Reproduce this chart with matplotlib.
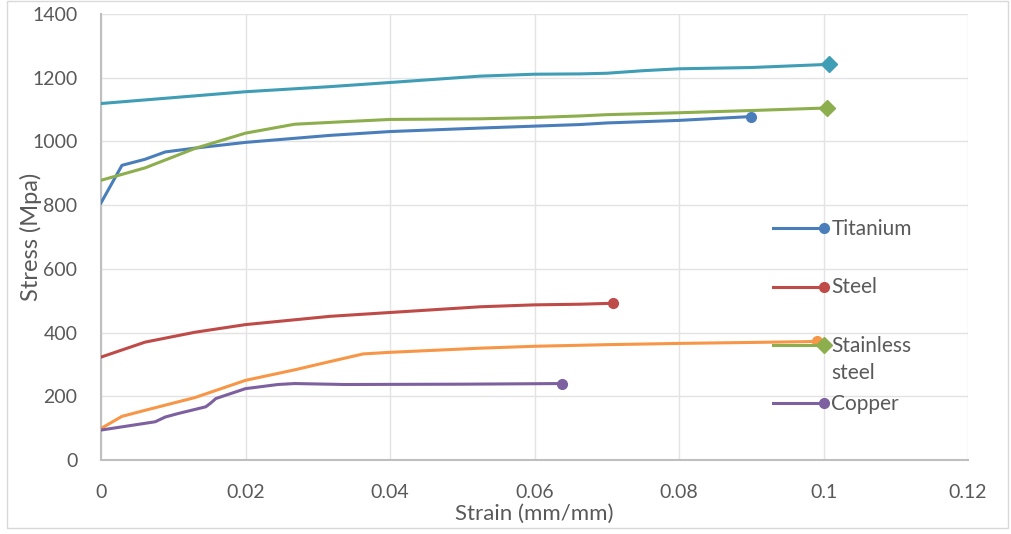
import numpy as np
import matplotlib
matplotlib.use("Agg")
import matplotlib.pyplot as plt
from matplotlib.lines import Line2D
from matplotlib.legend_handler import HandlerLine2D
from matplotlib.patches import Rectangle

plt.rcParams["font.family"] = ["Lato", "DejaVu Sans"]

# stress-strain curves
ti_strain = [0, 0.0029, 0.0061, 0.0089, 0.013, 0.02, 0.0317, 0.04, 0.0525, 0.06, 0.0663, 0.07, 0.08, 0.0899]
ti_stress = [807, 925, 944, 967, 979, 997, 1019, 1031, 1042, 1048, 1053, 1058, 1066, 1078]

steel_strain = [0, 0.0061, 0.013, 0.02, 0.0317, 0.04, 0.0525, 0.06, 0.0663, 0.0708]
steel_stress = [323, 370, 401, 425, 451, 463, 481, 487, 489, 492]

ss_strain = [0, 0.0061, 0.013, 0.02, 0.0268, 0.0337, 0.04, 0.0525, 0.06, 0.0663, 0.07, 0.08, 0.09, 0.1005]
ss_stress = [878, 917, 978, 1026, 1054, 1062, 1069, 1071, 1075, 1080, 1084, 1090, 1097, 1105]

cu_strain = [0, 0.0075, 0.0089, 0.0107, 0.0145, 0.0152, 0.0159, 0.02, 0.0245, 0.0268, 0.0337, 0.05, 0.0638]
cu_stress = [94, 120, 135, 146, 167, 179, 193, 224, 237, 240, 237, 238, 240]

# unlabelled series (not in the legend)
top_strain = [0, 0.02, 0.0317, 0.04, 0.0525, 0.06, 0.0663, 0.07, 0.075, 0.08, 0.09, 0.1008]
top_stress = [1119, 1156, 1172, 1185, 1205, 1211, 1212, 1214, 1222, 1228, 1232, 1242]

low_strain = [0, 0.0029, 0.0061, 0.013, 0.02, 0.0268, 0.0317, 0.0363, 0.04, 0.0525, 0.06, 0.07, 0.08, 0.09, 0.0991]
low_stress = [99, 137, 156, 196, 250, 283, 309, 333, 338, 351, 357, 362, 366, 369, 372]

x_ticks = [0, 0.02, 0.04, 0.06, 0.08, 0.1, 0.12]
x_tick_labels = ["0", "0.02", "0.04", "0.06", "0.08", "0.1", "0.12"]
y_ticks = [0, 200, 400, 600, 800, 1000, 1200, 1400]


class EndMarker(HandlerLine2D):
    """Excel-like legend key: line with the marker at its right end."""

    def __init__(self, yshift=0.0, **kw):
        super().__init__(**kw)
        self.yshift = yshift

    def create_artists(self, legend, orig_handle, xdescent, ydescent,
                       width, height, fontsize, trans):
        y = (height - ydescent) / 2 + self.yshift * fontsize
        line = Line2D([-xdescent, -xdescent + width], [y, y])
        self.update_prop(line, orig_handle, legend)
        line.set_markevery([1])
        line.set_transform(trans)
        return [line]


fig = plt.figure(figsize=(10.11, 5.34), dpi=100)
ax = fig.add_axes([101 / 1011, 74 / 534, 867 / 1011, 446 / 534])

lw = 2.2
ax.plot(top_strain, top_stress, color="#3F9DB5", lw=lw, marker="D", ms=8.5, markevery=[-1], zorder=3)
l_ti, = ax.plot(ti_strain, ti_stress, color="#4A7EBB", lw=lw, marker="o", ms=7, markevery=[-1], zorder=3)
l_st, = ax.plot(steel_strain, steel_stress, color="#BE4B48", lw=lw, marker="o", ms=7, markevery=[-1], zorder=3)
l_ss, = ax.plot(ss_strain, ss_stress, color="#8DAE4D", lw=lw, marker="D", ms=8.5, markevery=[-1], zorder=3)
ax.plot(low_strain, low_stress, color="#F79646", lw=lw, marker="o", ms=7, markevery=[-1], zorder=3)
l_cu, = ax.plot(cu_strain, cu_stress, color="#7D60A0", lw=lw, marker="o", ms=7, markevery=[-1], zorder=3)

ax.set_xlim(0, 0.12)
ax.set_ylim(0, 1400)
ax.set_xticks(x_ticks, x_tick_labels)
ax.set_yticks(y_ticks)
ax.tick_params(length=0, labelsize=14, labelcolor="#595959", pad=17)
ax.grid(True, color="#E3E3E3", lw=1.0)
ax.set_axisbelow(True)
for s in ["top", "right"]:
    ax.spines[s].set_visible(False)
for s in ["left", "bottom"]:
    ax.spines[s].set_color("#BFBFBF")
    ax.spines[s].set_linewidth(1.5)

ax.set_xlabel("Strain (mm/mm)", fontsize=16, color="#595959", labelpad=2.5)
ax.set_ylabel("Stress (Mpa)", fontsize=17, color="#595959", labelpad=-7)

handles = [l_ti, l_st, l_ss, l_cu]
labels = ["Titanium\n", "Steel\n", "Stainless\nsteel", "Copper\n"]
hm = {h: EndMarker(yshift=0.72) for h in handles}
leg = ax.legend(handles, labels, handler_map=hm, loc="upper left",
                bbox_to_anchor=(0.775, 0.540), frameon=False, fontsize=15,
                handlelength=2.45, handletextpad=0.35, labelspacing=0.53,
                borderpad=0, borderaxespad=0, labelcolor="#595959")
for t in leg.get_texts():
    t.set_linespacing(1.45)
leg.set_zorder(5)

fig.patches.append(Rectangle((7 / 1011, 6 / 534), 1001 / 1011, 527 / 534,
                             transform=fig.transFigure, fill=False,
                             edgecolor="#D9D9D9", lw=1.0))

fig.savefig("out.png", dpi=100)
